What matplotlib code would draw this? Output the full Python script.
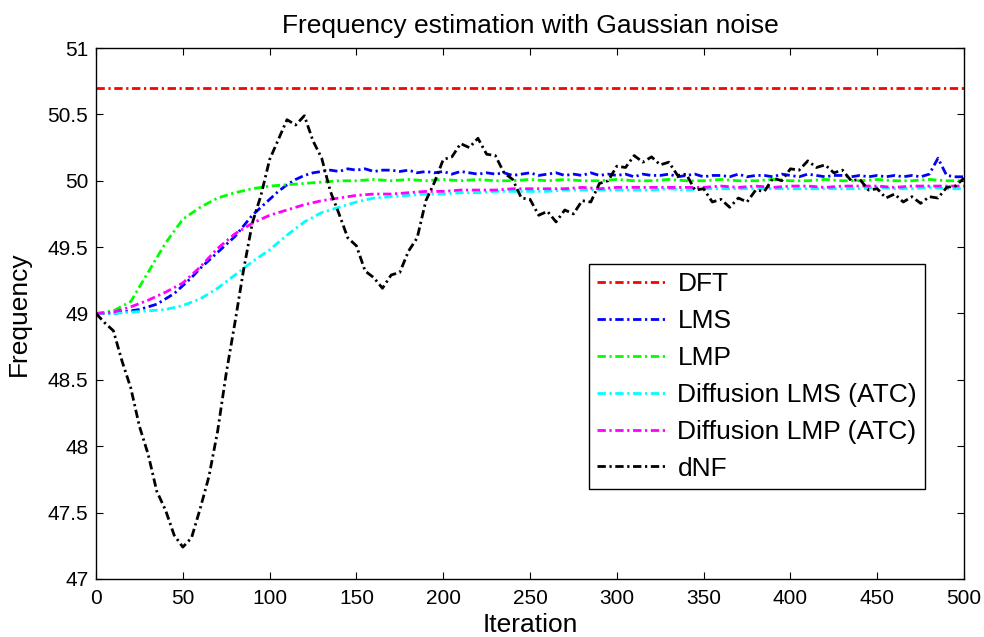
import numpy as np
import matplotlib
matplotlib.use('Agg')
import matplotlib.pyplot as plt

plt.rcParams['font.family'] = ['Liberation Sans', 'DejaVu Sans']
plt.rcParams['lines.scale_dashes'] = False

# Iteration grids
iter10 = np.arange(0, 501, 10)
iter5 = np.arange(0, 501, 5)

dft_value = 50.7

# LMS (sampled every 5 iterations)
lms = [49.00, 49.00, 49.00, 49.01, 49.02, 49.03, 49.05, 49.07, 49.11, 49.15,
       49.21, 49.27, 49.34, 49.40, 49.46, 49.52, 49.58, 49.66, 49.74, 49.80,
       49.86, 49.92, 49.97, 50.01, 50.04, 50.06, 50.07, 50.08, 50.07, 50.09,
       50.08, 50.09, 50.07, 50.08, 50.08, 50.07, 50.08, 50.06, 50.07, 50.06,
       50.07, 50.05, 50.07, 50.06, 50.05, 50.06, 50.05, 50.06, 50.04, 50.05,
       50.06, 50.04, 50.05, 50.06, 50.04, 50.05, 50.04, 50.06, 50.04, 50.05,
       50.04, 50.05, 50.03, 50.05, 50.04, 50.04, 50.05, 50.03, 50.04, 50.05,
       50.03, 50.04, 50.04, 50.03, 50.05, 50.03, 50.04, 50.04, 50.03, 50.05,
       50.04, 50.03, 50.05, 50.04, 50.03, 50.04, 50.04, 50.03, 50.04, 50.03,
       50.04, 50.03, 50.04, 50.03, 50.04, 50.03, 50.05, 50.17, 50.04, 50.03,
       50.03]

# LMP (every 10 iterations)
lmp = [49.00, 49.02, 49.09, 49.31, 49.53, 49.71, 49.80, 49.87, 49.91, 49.94,
       49.96, 49.97, 49.98, 49.99, 50.00, 50.00, 50.01, 50.00, 50.01, 50.00,
       50.01, 50.00, 50.01, 50.00, 50.00, 50.01, 50.00, 50.01, 50.00, 50.00,
       50.01, 50.00, 50.00, 50.01, 50.00, 50.00, 50.01, 50.00, 50.00, 50.01,
       50.00, 50.00, 50.01, 50.00, 50.00, 50.01, 50.00, 50.00, 50.01, 50.00,
       50.00]

# Diffusion LMS (ATC)
dlms = [49.00, 49.00, 49.01, 49.02, 49.03, 49.06, 49.11, 49.19, 49.29, 49.39,
        49.48, 49.59, 49.69, 49.76, 49.80, 49.84, 49.87, 49.88, 49.89, 49.90,
        49.90, 49.91, 49.91, 49.92, 49.92, 49.92, 49.92, 49.93, 49.93, 49.93,
        49.93, 49.93, 49.93, 49.94, 49.93, 49.94, 49.94, 49.94, 49.94, 49.94,
        49.94, 49.94, 49.94, 49.94, 49.94, 49.95, 49.94, 49.94, 49.95, 49.94,
        49.94]

# Diffusion LMP (ATC)
dlmp = [49.00, 49.01, 49.05, 49.10, 49.16, 49.23, 49.35, 49.49, 49.60, 49.68,
        49.74, 49.78, 49.82, 49.85, 49.87, 49.89, 49.90, 49.90, 49.91, 49.92,
        49.92, 49.93, 49.93, 49.93, 49.94, 49.94, 49.94, 49.94, 49.95, 49.94,
        49.95, 49.95, 49.95, 49.95, 49.95, 49.95, 49.96, 49.95, 49.96, 49.95,
        49.96, 49.96, 49.95, 49.96, 49.96, 49.96, 49.95, 49.96, 49.96, 49.96,
        49.96]

# dNF (every 5 iterations)
dnf = [49.00, 48.93, 48.87, 48.64, 48.44, 48.15, 47.94, 47.66, 47.52, 47.33,
       47.24, 47.31, 47.53, 47.77, 48.11, 48.55, 48.93, 49.33, 49.68, 49.89,
       50.16, 50.31, 50.46, 50.42, 50.49, 50.30, 50.17, 49.92, 49.75, 49.57,
       49.51, 49.32, 49.27, 49.19, 49.29, 49.31, 49.47, 49.57, 49.85, 49.99,
       50.16, 50.18, 50.28, 50.25, 50.32, 50.20, 50.19, 50.06, 50.01, 49.87,
       49.86, 49.74, 49.77, 49.69, 49.78, 49.75, 49.85, 49.84, 49.98, 50.00,
       50.11, 50.10, 50.19, 50.14, 50.18, 50.12, 50.14, 50.04, 50.05, 49.93,
       49.94, 49.84, 49.86, 49.80, 49.87, 49.84, 49.93, 49.92, 50.02, 50.00,
       50.09, 50.08, 50.15, 50.10, 50.12, 50.06, 50.08, 50.00, 50.01, 49.93,
       49.94, 49.87, 49.90, 49.84, 49.88, 49.83, 49.88, 49.87, 49.95, 49.96,
       50.02]

labels = ['DFT', 'LMS', 'LMP', 'Diffusion LMS (ATC)', 'Diffusion LMP (ATC)', 'dNF']
colors = ['#ff0000', '#0000ff', '#00ff00', '#00ffff', '#ff00ff', '#000000']

fig = plt.figure(figsize=(9.84, 6.37), dpi=100)
ax = fig.add_axes([0.0976, 0.0911, 0.8821, 0.8335])

lw = 2.0
dash = (0, (6.0, 2.6, 1.6, 2.6))  # matlab-like dash-dot
ax.plot([0, 500], [dft_value, dft_value], color=colors[0], lw=lw, ls=dash, label=labels[0])
ax.plot(iter5, lms, color=colors[1], lw=lw, ls=dash, label=labels[1])
ax.plot(iter10, lmp, color=colors[2], lw=lw, ls=dash, label=labels[2])
ax.plot(iter10, dlms, color=colors[3], lw=lw, ls=dash, label=labels[3])
ax.plot(iter10, dlmp, color=colors[4], lw=lw, ls=dash, label=labels[4])
ax.plot(iter5, dnf, color=colors[5], lw=lw, ls=dash, label=labels[5])

ax.set_xlim(0, 500)
ax.set_ylim(47, 51)
ax.set_xticks(np.arange(0, 501, 50))
ax.set_yticks(np.arange(47, 51.01, 0.5))
ax.set_yticklabels(['47', '47.5', '48', '48.5', '49', '49.5', '50', '50.5', '51'])
ax.tick_params(direction='in', top=True, right=True, length=5, labelsize=15, width=0.8)
ax.tick_params(axis='x', pad=7.5)
ax.tick_params(axis='y', pad=5.5)
for s in ax.spines.values():
    s.set_linewidth(1.0)

ax.set_title('Frequency estimation with Gaussian noise', fontsize=19, pad=11)
ax.set_xlabel('Iteration', fontsize=19, labelpad=3)
ax.set_ylabel('Frequency', fontsize=19, labelpad=12)

leg = ax.legend(loc='upper left', bbox_to_anchor=(0.568, 0.593), borderaxespad=0,
                fontsize=19, handlelength=2.7, handletextpad=0.35, labelspacing=0.49,
                borderpad=0.3, fancybox=False, framealpha=1, edgecolor='black')
leg.get_frame().set_linewidth(1.0)

fig.savefig('out.png', dpi=100)
